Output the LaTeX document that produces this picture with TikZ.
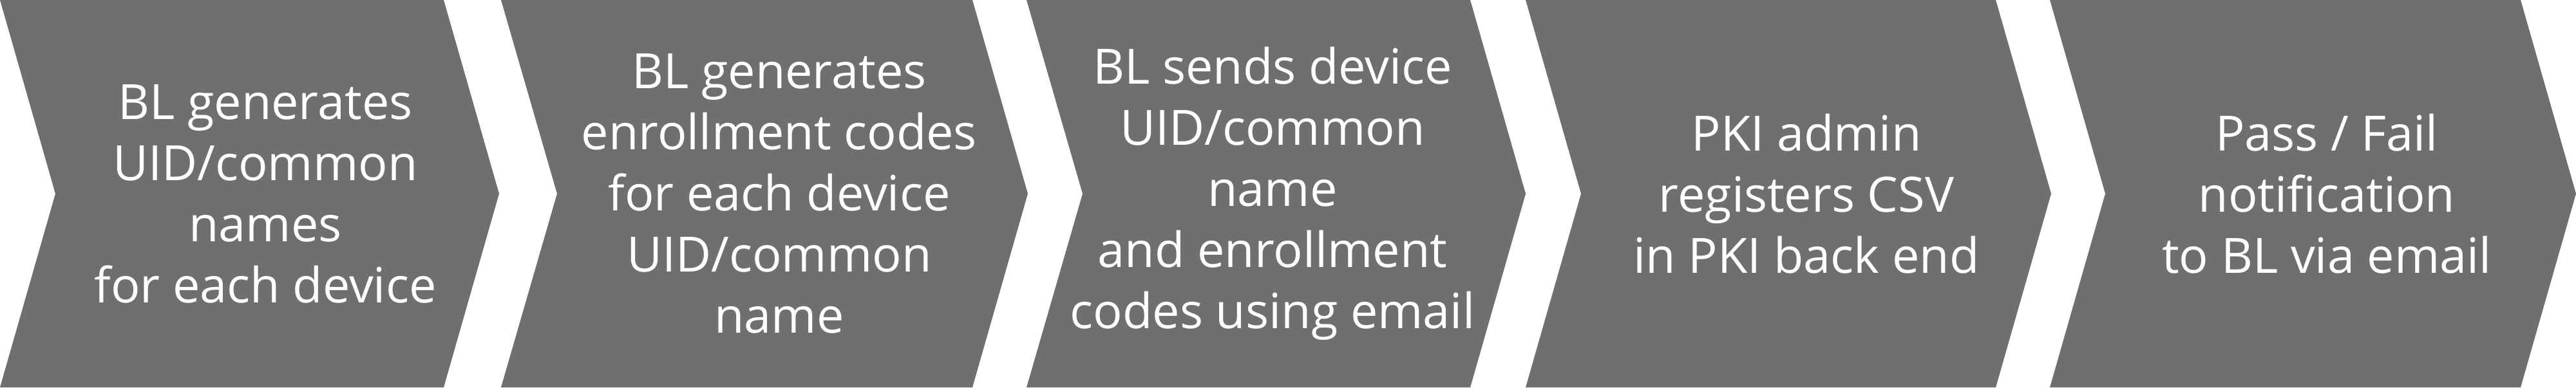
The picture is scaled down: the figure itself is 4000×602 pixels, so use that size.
\documentclass[tikz,border=0pt]{standalone}
\usepackage{fontspec}
\setmainfont{Open Sans}
\usepackage{tikz}
\definecolor{stepgray}{RGB}{111,111,111}

\begin{document}
\begin{tikzpicture}[x=0.01cm, y=0.01cm,
chev/.style={fill=stepgray, draw=none},
steptext/.style={text=white, align=center, inner sep=0pt,
  font=\fontsize{21.5}{27}\selectfont},
]
\useasboundingbox (0,0) rectangle (4000,602);

\fill[chev] (0,602) -- (689,602) -- (775,301) -- (689,0) -- (0,0) -- (86,301) -- cycle;
\fill[chev] (778,602) -- (1510,602) -- (1596,301) -- (1510,0) -- (778,0) -- (865,301) -- cycle;
\fill[chev] (1594,602) -- (2283,602) -- (2369,301) -- (2283,0) -- (1594,0) -- (1681,301) -- cycle;
\fill[chev] (2369,602) -- (3099,602) -- (3185,301) -- (3099,0) -- (2369,0) -- (2455,301) -- cycle;
\fill[chev] (3183,602) -- (3914,602) -- (4000,301) -- (3914,0) -- (3183,0) -- (3269,301) -- cycle;

\node[steptext] (uid) at (412,301) {BL generates\\UID/common\\names\\for each device};
\node[steptext] (codes) at (1210,301) {BL generates\\enrollment codes\\for each device\\UID/common\\name};
\node[steptext] (send) at (1976,301) {BL sends device\\UID/common\\name\\and enrollment\\codes using email};
\node[steptext] (admin) at (2805,301) {PKI admin\\registers CSV\\in PKI back end};
\node[steptext] (notify) at (3613,301) {Pass / Fail\\notification\\to BL via email};

\end{tikzpicture}
\end{document}
